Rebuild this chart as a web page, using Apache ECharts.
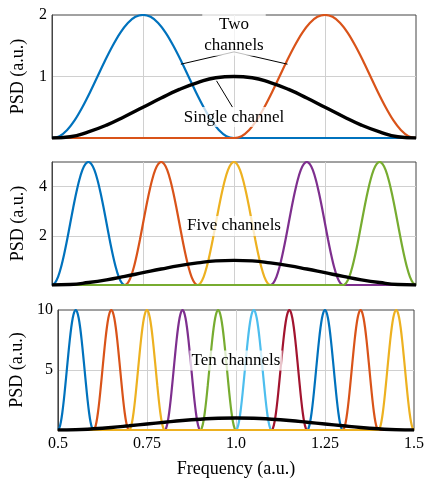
<!DOCTYPE html>
<html>
<head>
<meta charset="utf-8">
<script src="https://cdn.jsdelivr.net/npm/echarts@6/dist/echarts.min.js"></script>
<style>
  html, body { margin: 0; padding: 0; background: #ffffff; }
  #chart { width: 427px; height: 479px; }
</style>
</head>
<body>
<div id="chart"></div>
<script>
// Frequency axis shared by all three panels
const freqTicks = [0.5, 0.75, 1.0, 1.25, 1.5];
const freqTickLabels = ['0.5', '0.75', '1.0', '1.25', '1.5'];

// PSD of the single wide channel, sampled every 0.05
const singleFreq = [0.5, 0.55, 0.6, 0.65, 0.7, 0.75, 0.8, 0.85, 0.9, 0.95, 1.0,
                    1.05, 1.1, 1.15, 1.2, 1.25, 1.3, 1.35, 1.4, 1.45, 1.5];
const singlePsd  = [0, 0.02, 0.10, 0.21, 0.35, 0.50, 0.65, 0.79, 0.90, 0.98, 1.00,
                    0.98, 0.90, 0.79, 0.65, 0.50, 0.35, 0.21, 0.10, 0.02, 0];

// Sub-channel pulses: 25 evenly spaced samples across one band, left to right
const twoCenters = [0.75, 1.25];
const twoBand = 0.5;
const twoPulse = [0, 0.03, 0.13, 0.29, 0.5, 0.74, 1.0, 1.26, 1.5, 1.71, 1.87, 1.97, 2.0,
                  1.97, 1.87, 1.71, 1.5, 1.26, 1.0, 0.74, 0.5, 0.29, 0.13, 0.03, 0];

const fiveCenters = [0.6, 0.8, 1.0, 1.2, 1.4];
const fiveBand = 0.2;
const fivePulse = [0, 0.09, 0.33, 0.73, 1.25, 1.85, 2.5, 3.15, 3.75, 4.27, 4.67, 4.91, 5.0,
                   4.91, 4.67, 4.27, 3.75, 3.15, 2.5, 1.85, 1.25, 0.73, 0.33, 0.09, 0];

const tenCenters = [0.55, 0.65, 0.75, 0.85, 0.95, 1.05, 1.15, 1.25, 1.35, 1.45];
const tenBand = 0.1;
const tenPulse = [0, 0.17, 0.67, 1.46, 2.5, 3.71, 5.0, 6.29, 7.5, 8.54, 9.33, 9.83, 10.0,
                  9.83, 9.33, 8.54, 7.5, 6.29, 5.0, 3.71, 2.5, 1.46, 0.67, 0.17, 0];

// y ticks per panel
const yMax = [2, 5, 10];
const yStep = [1, 2, 5];

const channelColors = ['#0072BD', '#D95319', '#EDB120', '#7E2F8E', '#77AC30', '#4DBEEE', '#A2142F'];

const FONT = 'Liberation Serif';
const TEXT_BG = 'rgba(255,255,255,0.75)';

function pulseData(center, band, pulse) {
  const start = center - band / 2;
  const step = band / (pulse.length - 1);
  const pts = [];
  if (start > freqTicks[0] + 1e-9) pts.push([freqTicks[0], 0]);
  pulse.forEach((v, i) => pts.push([+(start + i * step).toFixed(6), v]));
  const end = center + band / 2;
  if (end < freqTicks[freqTicks.length - 1] - 1e-9) pts.push([freqTicks[freqTicks.length - 1], 0]);
  return pts;
}

const singleData = singleFreq.map((f, i) => [f, singlePsd[i]]);

const grids = [
  { left: 52, right: 11, top: 15, height: 123 },
  { left: 52, right: 11, top: 162, height: 123 },
  { left: 52, right: 11, top: 310, height: 122 }
].map(g => Object.assign(g, { show: true, borderColor: '#444', borderWidth: 1, backgroundColor: 'transparent' }));

const xAxes = [0, 1, 2].map(i => ({
  type: 'value',
  gridIndex: i,
  min: 0.5, max: 1.5, interval: 0.25,
  name: i === 2 ? 'Frequency (a.u.)' : '',
  nameLocation: 'middle',
  nameGap: 30,
  nameTextStyle: { fontFamily: FONT, fontSize: 18, color: '#000' },
  axisLine: { show: true, lineStyle: { color: '#444', width: 1 } },
  axisTick: { show: false },
  axisLabel: {
    show: i === 2,
    margin: 6,
    fontFamily: FONT, fontSize: 16, color: '#000',
    formatter: v => {
      const k = freqTicks.findIndex(t => Math.abs(t - v) < 1e-6);
      return k >= 0 ? freqTickLabels[k] : '';
    }
  },
  splitLine: { show: true, showMinLine: false, showMaxLine: false, lineStyle: { color: '#d0d0d0', width: 1 } }
}));

const yAxes = [0, 1, 2].map(i => ({
  type: 'value',
  gridIndex: i,
  min: 0, max: yMax[i], interval: yStep[i],
  name: 'PSD (a.u.)',
  nameLocation: 'middle',
  nameGap: 25,
  nameTextStyle: { fontFamily: FONT, fontSize: 18, color: '#000' },
  axisLine: { show: true, lineStyle: { color: '#444', width: 1 } },
  axisTick: { show: false },
  axisLabel: {
    margin: 5,
    showMinLabel: false,
    showMaxLabel: i !== 1,
    fontFamily: FONT, fontSize: 16, color: '#000'
  },
  splitLine: { show: true, showMinLine: false, showMaxLine: false, lineStyle: { color: '#d0d0d0', width: 1 } }
}));

function channelSeries(panel, centers, band, pulse) {
  return centers.map((c, k) => ({
    type: 'line',
    xAxisIndex: panel, yAxisIndex: panel,
    data: pulseData(c, band, pulse),
    smooth: 0.3,
    showSymbol: false,
    symbol: 'none',
    lineStyle: { color: channelColors[k % channelColors.length], width: 2.2 },
    silent: true
  }));
}

function textMark(coord, text, lineHeight) {
  return {
    coord: coord,
    symbol: 'rect',
    symbolSize: 0,
    label: {
      show: true,
      position: 'inside',
      formatter: text,
      fontFamily: FONT,
      fontSize: 17,
      color: '#000',
      lineHeight: lineHeight || 20,
      backgroundColor: TEXT_BG,
      padding: [0, 2]
    }
  };
}

function singleSeries(panel, marks, lines) {
  const s = {
    type: 'line',
    xAxisIndex: panel, yAxisIndex: panel,
    data: singleData,
    smooth: 0.5,
    showSymbol: false,
    symbol: 'none',
    lineStyle: { color: '#000', width: 3.4 },
    silent: true,
    z: 3,
    markPoint: { silent: true, z: 10, data: marks }
  };
  if (lines) {
    s.markLine = {
      silent: true,
      symbol: ['none', 'none'],
      label: { show: false },
      lineStyle: { color: '#000', width: 1, type: 'solid' },
      data: lines
    };
  }
  return s;
}

const series = [].concat(
  channelSeries(0, twoCenters, twoBand, twoPulse),
  [singleSeries(0,
    [textMark([1.0, 1.68], 'Two\nchannels', 21), textMark([1.0, 0.34], 'Single channel')],
    [
      [{ coord: [1.0, 1.40] }, { coord: [0.854, 1.20] }],
      [{ coord: [1.0, 1.40] }, { coord: [1.147, 1.20] }],
      [{ coord: [0.952, 0.93] }, { coord: [0.996, 0.50] }]
    ])],
  channelSeries(1, fiveCenters, fiveBand, fivePulse),
  [singleSeries(1, [textMark([1.0, 2.4], 'Five channels')])],
  channelSeries(2, tenCenters, tenBand, tenPulse),
  [singleSeries(2, [textMark([1.0, 5.8], 'Ten channels')])]
);

const chart = echarts.init(document.getElementById('chart'), null, { renderer: 'canvas' });
chart.setOption({
  animation: false,
  backgroundColor: '#ffffff',
  grid: grids,
  xAxis: xAxes,
  yAxis: yAxes,
  series: series
});
</script>
</body>
</html>
